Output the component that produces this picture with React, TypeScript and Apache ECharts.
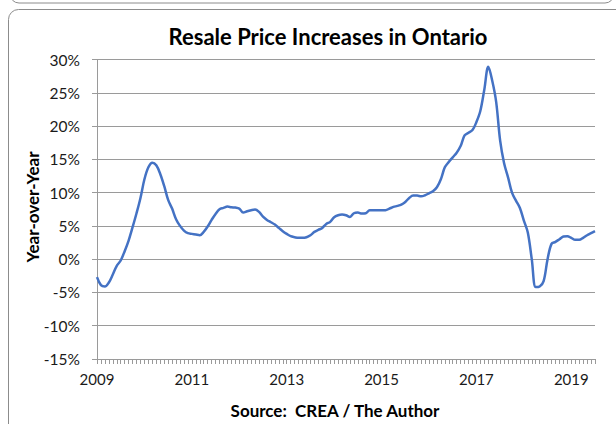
import React, { useEffect, useRef } from "react";
import * as echarts from "echarts";

const title = "Resale Price Increases in Ontario";
const yAxisName = "Year-over-Year";
const sourceNote = "Source:  CREA / The Author";

const startYear = 2009;
const monthCount = 127; // Jan 2009 .. Jul 2019
const months: string[] = [];
for (let i = 0; i < monthCount; i++) {
  const y = startYear + Math.floor(i / 12);
  const m = (i % 12) + 1;
  months.push(`${y}-${m < 10 ? "0" + m : m}`);
}

const yoyPct: number[] = [
  -2.7, -3.9, -4.1, -3.5, -2.3, -1.0, -0.2, 1.2, 2.8, 4.8, 6.9, 9.2,
  12.0, 13.8, 14.5, 14.1, 12.8, 11.0, 8.9, 7.6, 6.0, 5.0, 4.3, 3.9,
  3.8, 3.7, 3.6, 4.1, 4.9, 5.9, 6.8, 7.5, 7.7, 7.9, 7.8, 7.75,
  7.6, 7.0, 7.2, 7.35, 7.45, 7.1, 6.4, 5.9, 5.55, 5.2, 4.7, 4.2,
  3.8, 3.45, 3.3, 3.2, 3.2, 3.3, 3.6, 4.1, 4.4, 4.7, 5.3, 5.6,
  6.3, 6.6, 6.7, 6.6, 6.35, 6.9, 7.0, 6.85, 6.9, 7.35, 7.35, 7.35,
  7.35, 7.35, 7.6, 7.85, 8.0, 8.2, 8.6, 9.2, 9.55, 9.55, 9.45, 9.6,
  9.9, 10.2, 10.8, 12.0, 13.8, 14.6, 15.3, 16.0, 17.0, 18.6, 19.0, 19.4,
  20.6, 22.3, 25.5, 28.9, 26.8, 23.6, 17.8, 14.4, 12.3, 10.0, 8.8, 7.7,
  5.8, 4.0, 0.0, -4.2, -4.1, -3.3, 0.0, 2.3, 2.6, 3.0, 3.4, 3.45,
  3.2, 2.9, 2.9, 3.2, 3.6, 3.9, 4.2,
];

const yMin = -15;
const yMax = 30;
const yStep = 5;

export default function App() {
  const ref = useRef<HTMLDivElement>(null);
  useEffect(() => {
    if (!ref.current) return;
    const chart = echarts.init(ref.current, undefined, { renderer: "svg" });
    const font = "Lato, 'Open Sans', sans-serif";
    chart.setOption({
      animation: false,
      backgroundColor: "#ffffff",
      title: {
        text: title,
        left: 323,
        textAlign: "center",
        top: 20,
        textStyle: { fontFamily: font, fontWeight: "bold", fontSize: 22, color: "#000" },
      },
      graphic: [
        {
          type: "rect",
          shape: { x: 10, y: -300, width: 604, height: 303, r: 9 },
          style: { fill: "none", stroke: "#8c8c8c", lineWidth: 1 },
        },
        {
          type: "rect",
          shape: { x: 8.5, y: 9.5, width: 660, height: 500, r: 10 },
          style: { fill: "none", stroke: "#8c8c8c", lineWidth: 1 },
        },
        {
          type: "text",
          x: 32,
          y: 207,
          rotation: Math.PI / 2,
          style: {
            text: yAxisName,
            fontFamily: font,
            fontWeight: "bold",
            fontSize: 17,
            fill: "#000",
            align: "center",
            verticalAlign: "middle",
          },
        },
        {
          type: "text",
          x: 335,
          y: 410,
          style: {
            text: sourceNote,
            fontFamily: font,
            fontWeight: "bold",
            fontSize: 17,
            fill: "#000",
            align: "center",
            verticalAlign: "middle",
          },
        },
      ],
      grid: { left: 97, right: 21, top: 59.5, bottom: 65, containLabel: false },
      xAxis: {
        type: "category",
        data: months,
        boundaryGap: false,
        axisLine: { show: true, onZero: false, lineStyle: { color: "#9a9a9a", width: 1 } },
        axisTick: { show: true, interval: 0, length: 5, lineStyle: { color: "#9a9a9a" } },
        axisLabel: {
          interval: (i: number) => i % 24 === 0,
          formatter: (v: string) => v.slice(0, 4),
          margin: 12,
          fontFamily: font,
          fontSize: 15,
          color: "#1a1a1a",
        },
        splitLine: { show: false },
      },
      yAxis: {
        type: "value",
        min: yMin,
        max: yMax,
        interval: yStep,
        axisLine: { show: true, lineStyle: { color: "#9a9a9a", width: 1 } },
        axisTick: { show: true, length: 5, lineStyle: { color: "#9a9a9a" } },
        axisLabel: {
          formatter: (v: number) => `${v}%`,
          margin: 17,
          fontFamily: font,
          fontSize: 15.5,
          color: "#1a1a1a",
        },
        splitLine: { show: true, lineStyle: { color: "#9a9a9a", width: 1 } },
      },
      series: [
        {
          type: "line",
          data: yoyPct,
          smooth: 0.35,
          showSymbol: false,
          symbol: "none",
          lineStyle: { color: "#4472C4", width: 2.5 },
        },
      ],
    });
    return () => chart.dispose();
  }, []);
  return (
    <div
      ref={ref}
      style={{ position: "fixed", left: 0, top: 0, width: 616, height: 424 }}
    />
  );
}
